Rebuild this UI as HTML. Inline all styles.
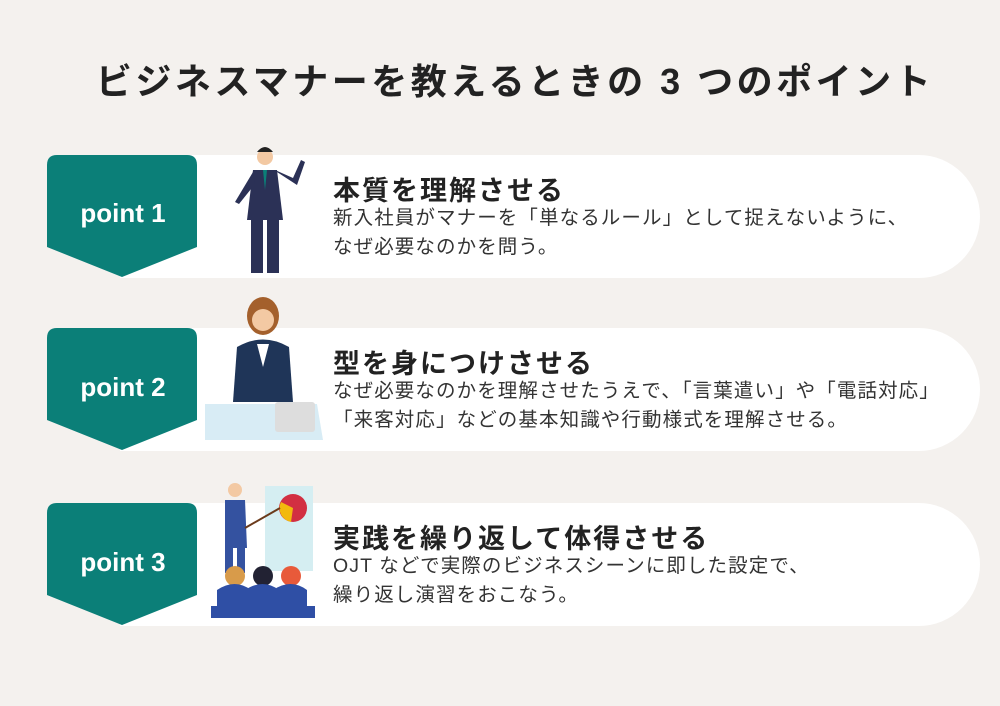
<!DOCTYPE html>
<html><head><meta charset="utf-8"><style>
body{margin:0;width:1000px;height:706px;background:#f4f1ee;position:relative;overflow:hidden;font-family:"Liberation Sans","Noto Sans CJK JP",sans-serif;}
.title{position:absolute;top:53px;left:0;width:1030px;text-align:center;font-size:36px;font-weight:bold;color:#222;letter-spacing:3.5px;white-space:nowrap;}
.row{position:absolute;left:120px;width:860px;height:123px;background:#fff;border-radius:0 62px 62px 0;}
.badge{position:absolute;left:47px;}
.h{position:absolute;left:333px;font-size:27px;font-weight:bold;color:#222;letter-spacing:2px;}
.p{position:absolute;left:333px;font-size:19.5px;color:#333;line-height:29px;white-space:nowrap;letter-spacing:1.1px;}
svg{position:absolute;}
</style></head><body>
<div class="title">ビジネスマナーを教えるときの 3 つのポイント</div>

<div class="row" style="top:155px"></div>
<div class="row" style="top:328px"></div>
<div class="row" style="top:503px"></div>

<svg class="badge" style="top:155px" width="152" height="124"><path d="M10 0H140Q150 0 150 10V92L75 122L0 92V10Q0 0 10 0Z" fill="#0b7f78"/><text x="76" y="67" text-anchor="middle" fill="#fff" font-size="26" font-weight="bold" font-family="Liberation Sans,sans-serif">point 1</text></svg>
<svg class="badge" style="top:328px" width="152" height="124"><path d="M10 0H140Q150 0 150 10V92L75 122L0 92V10Q0 0 10 0Z" fill="#0b7f78"/><text x="76" y="68" text-anchor="middle" fill="#fff" font-size="26" font-weight="bold" font-family="Liberation Sans,sans-serif">point 2</text></svg>
<svg class="badge" style="top:503px" width="152" height="124"><path d="M10 0H140Q150 0 150 10V92L75 122L0 92V10Q0 0 10 0Z" fill="#0b7f78"/><text x="76" y="68" text-anchor="middle" fill="#fff" font-size="26" font-weight="bold" font-family="Liberation Sans,sans-serif">point 3</text></svg>

<svg style="left:215px;top:140px" width="100" height="140">
<circle cx="50" cy="17" r="8" fill="#f3c9a3"/><path d="M42 12Q50 2 58 12Z" fill="#222"/>
<path d="M38 30H62L68 80H32Z" fill="#2b3156"/>
<path d="M38 32L20 62L24 64L40 44Z" fill="#2b3156"/><path d="M62 32L82 45L90 22L86 20L78 38L60 30Z" fill="#2b3156"/>
<rect x="36" y="78" width="12" height="55" fill="#2b3156"/><rect x="52" y="78" width="12" height="55" fill="#2b3156"/>
<path d="M48 30L50 50L52 30Z" fill="#0b7f78"/>
</svg>
<svg style="left:205px;top:292px" width="120" height="150">
<ellipse cx="58" cy="24" rx="16" ry="19" fill="#a4602c"/><circle cx="58" cy="28" r="11" fill="#f3c9a3"/>
<path d="M32 55Q58 40 84 55L88 110H28Z" fill="#1f3558"/><path d="M52 52L58 75L64 52Z" fill="#fff"/>
<path d="M0 112H112L118 148H0Z" fill="#d8ecf5"/>
<rect x="70" y="110" width="40" height="30" rx="3" fill="#ddd"/>
</svg>
<svg style="left:205px;top:478px" width="120" height="145">
<rect x="60" y="8" width="48" height="85" fill="#d5eef2"/><circle cx="88" cy="30" r="14" fill="#d22f42"/><path d="M88 30L76 24A14 14 0 0 0 86 44Z" fill="#f2b90e"/>
<circle cx="30" cy="12" r="7" fill="#f3c9a3"/><path d="M20 22H40L42 70H20Z" fill="#3452a0"/>
<line x1="40" y1="50" x2="75" y2="30" stroke="#6b3b1c" stroke-width="2"/>
<rect x="20" y="70" width="8" height="25" fill="#3452a0"/><rect x="32" y="70" width="8" height="25" fill="#3452a0"/>
<circle cx="30" cy="98" r="10" fill="#d89b4a"/><circle cx="58" cy="98" r="10" fill="#223"/><circle cx="86" cy="98" r="10" fill="#e85a3a"/>
<path d="M12 140V112Q30 100 46 112V140ZM40 140V112Q58 100 74 112V140ZM68 140V112Q86 100 102 112V140Z" fill="#2f4fa5"/>
<rect x="6" y="128" width="104" height="12" fill="#2f4fa5"/>
</svg>

<div class="h" style="top:169px">本質を理解させる</div>
<div class="p" style="top:204px">新入社員がマナーを「単なるルール」として捉えないように、<br>なぜ必要なのかを問う。</div>
<div class="h" style="top:342px">型を身につけさせる</div>
<div class="p" style="top:377px">なぜ必要なのかを理解させたうえで、「言葉遣い」や「電話対応」<br>「来客対応」などの基本知識や行動様式を理解させる。</div>
<div class="h" style="top:517px">実践を繰り返して体得させる</div>
<div class="p" style="top:552px">OJT などで実際のビジネスシーンに即した設定で、<br>繰り返し演習をおこなう。</div>
</body></html>
